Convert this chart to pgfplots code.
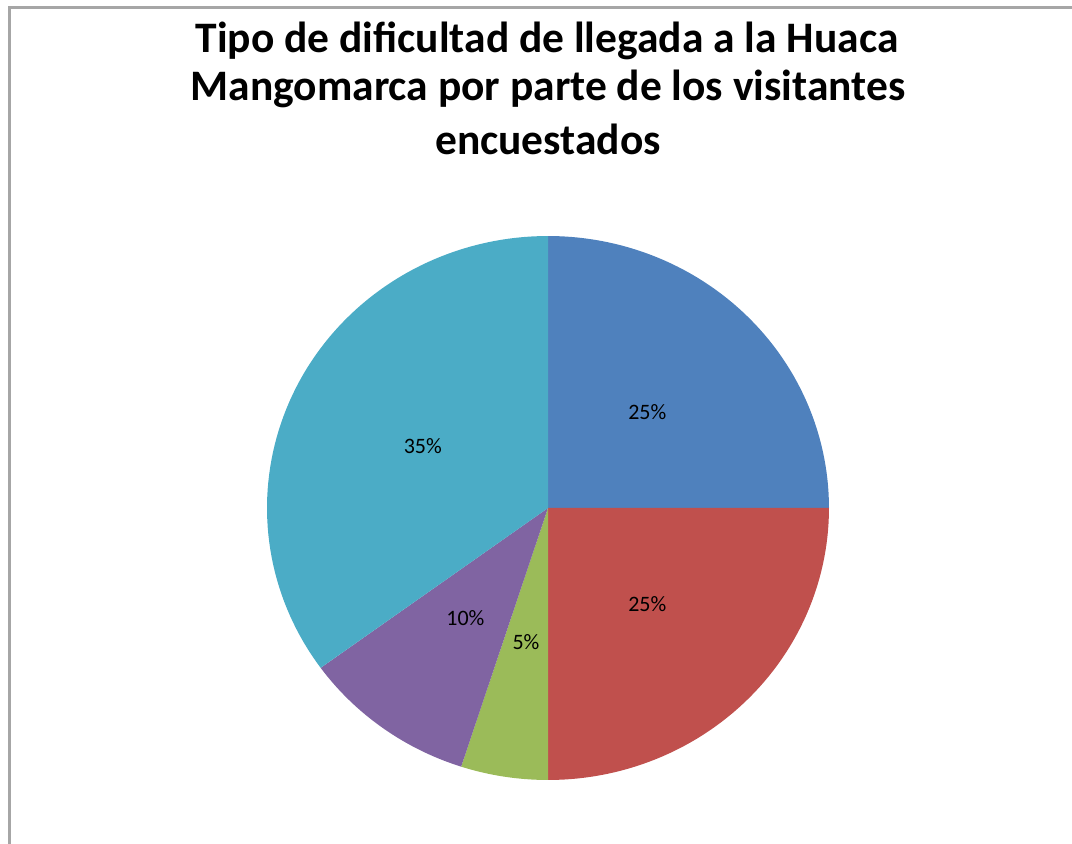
\documentclass[border=0pt]{standalone}
\usepackage{pgfplots}
\usepackage{pgfplotstable}
\pgfplotsset{compat=1.18}
\usepackage{fontspec}
\setmainfont{Carlito}
\definecolor{sA}{HTML}{4F81BD}
\definecolor{sB}{HTML}{C0504D}
\definecolor{sC}{HTML}{9BBB59}
\definecolor{sD}{HTML}{8064A2}
\definecolor{sE}{HTML}{4BACC6}
\definecolor{frame}{HTML}{A6A6A6}
\pgfplotstableread{
value
25
25
5
10
35
}\piedata
\begin{document}
\begin{tikzpicture}[x=1pt,y=1pt]
\useasboundingbox (0,0) rectangle (1072,844);
% cumulative angles (clockwise from 90 degrees)
\def\cum{0}
\foreach \i/\nm in {0/A,1/B,2/C,3/D,4/E}{
  \pgfplotstablegetelem{\i}{value}\of\piedata
  \pgfmathsetmacro{\s}{90-3.6*\cum}
  \pgfmathsetmacro{\newcum}{\cum+\pgfplotsretval}
  \pgfmathsetmacro{\e}{90-3.6*\newcum}
  \pgfmathsetmacro{\m}{(\s+\e)/2}
  \pgfmathtruncatemacro{\v}{\pgfplotsretval}
  \expandafter\xdef\csname st\nm\endcsname{\s}
  \expandafter\xdef\csname en\nm\endcsname{\e}
  \expandafter\xdef\csname md\nm\endcsname{\m}
  \expandafter\xdef\csname vl\nm\endcsname{\v}
  \xdef\cum{\newcum}
}
\draw[frame, line width=3pt] (9.5,0) -- (9.5,836) -- (1072,836);
\node[font=\fontsize{43.5}{48}\selectfont\bfseries] at (547,803) {Tipo de dificultad de llegada a la Huaca};
\node[font=\fontsize{43.5}{48}\selectfont\bfseries] at (548,755) {Mangomarca por parte de los visitantes};
\node[font=\fontsize{43.5}{48}\selectfont\bfseries] at (548,705) {encuestados};
\begin{axis}[
  at={(548pt,336pt)}, anchor=center,
  scale only axis, width=562pt, height=544pt,
  xmin=-1, xmax=1, ymin=-1, ymax=1,
  hide axis, clip=false,
]
\addplot[fill=sA, draw=none, domain=\enA:\stA, samples=60] ({cos(x)},{sin(x)}) -- (axis cs:0,0) -- cycle;
\addplot[fill=sB, draw=none, domain=\enB:\stB, samples=60] ({cos(x)},{sin(x)}) -- (axis cs:0,0) -- cycle;
\addplot[fill=sC, draw=none, domain=\enC:\stC, samples=20] ({cos(x)},{sin(x)}) -- (axis cs:0,0) -- cycle;
\addplot[fill=sD, draw=none, domain=\enD:\stD, samples=30] ({cos(x)},{sin(x)}) -- (axis cs:0,0) -- cycle;
\addplot[fill=sE, draw=none, domain=\enE:\stE, samples=80] ({cos(x)},{sin(x)}) -- (axis cs:0,0) -- cycle;
\node[font=\fontsize{22}{24}\selectfont] at (axis cs:{0.5*cos(\mdA)},{0.5*sin(\mdA)}) {\vlA\%};
\node[font=\fontsize{22}{24}\selectfont] at (axis cs:{0.5*cos(\mdB)},{0.5*sin(\mdB)}) {\vlB\%};
\node[font=\fontsize{22}{24}\selectfont] at (axis cs:{0.5*cos(\mdC)},{0.5*sin(\mdC)}) {\vlC\%};
\node[font=\fontsize{22}{24}\selectfont] at (axis cs:{0.5*cos(\mdD)},{0.5*sin(\mdD)}) {\vlD\%};
\node[font=\fontsize{22}{24}\selectfont] at (axis cs:{0.5*cos(\mdE)},{0.5*sin(\mdE)}) {\vlE\%};
\end{axis}
\end{tikzpicture}
\end{document}
